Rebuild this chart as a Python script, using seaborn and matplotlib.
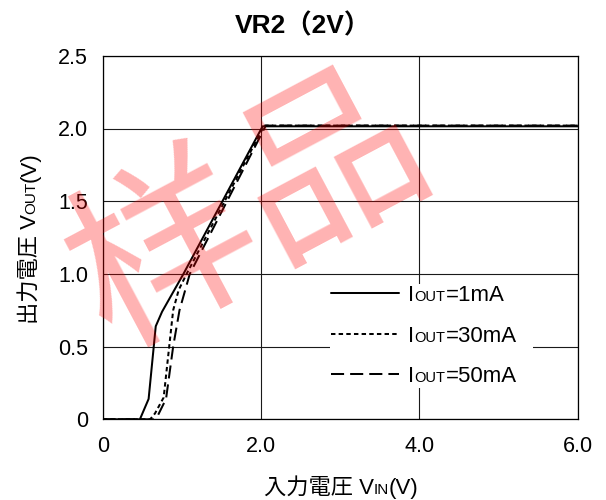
import numpy as np
import pandas as pd
import matplotlib
matplotlib.use("Agg")
import matplotlib.pyplot as plt
from matplotlib.transforms import IdentityTransform
import seaborn as sns

# ---------------- data ----------------
series_names = ["1mA", "30mA", "50mA"]
vin_1ma = [0, 0.47, 0.58, 0.67, 0.75, 1.02, 2.02, 6.0]
vout_1ma = [0, 0, 0.14, 0.64, 0.74, 1.00, 2.015, 2.015]
vin_30ma = [0, 0.60, 0.66, 0.77, 0.84, 0.89, 0.96, 1.06, 2.04, 6.0]
vout_30ma = [0, 0, 0.04, 0.15, 0.50, 0.75, 0.89, 1.00, 2.02, 2.02]
vin_50ma = [0, 0.64, 0.70, 0.80, 0.89, 0.97, 1.10, 2.06, 6.0]
vout_50ma = [0, 0, 0.03, 0.14, 0.50, 0.75, 1.00, 2.02, 2.02]

x_ticks = [0, 2, 4, 6]
x_tick_labels = ["0", "2.0", "4.0", "6.0"]
y_ticks = [0, 0.5, 1.0, 1.5, 2.0, 2.5]
y_tick_labels = ["0", "0.5", "1.0", "1.5", "2.0", "2.5"]
title_text = "VR2（2V）"
xlabel_parts = ["入力電圧 V", "IN", "(V)"]
ylabel_parts = ["出力電圧 V", "OUT", "(V)"]
legend_parts = [("I", "OUT", "=1mA"), ("I", "OUT", "=30mA"), ("I", "OUT", "=50mA")]
watermark_text = "样品"

# ---------------- style ----------------
sns.set_theme(style="white")
LAT = "Liberation Sans"
CJK = "Noto Sans CJK JP"
plt.rcParams["font.family"] = [LAT, CJK]
plt.rcParams["text.color"] = "black"
plt.rcParams["axes.labelcolor"] = "black"
plt.rcParams["xtick.color"] = "black"
plt.rcParams["ytick.color"] = "black"

W, H = 606, 500
fig = plt.figure(figsize=(W / 100, H / 100), dpi=100)
fig.patch.set_facecolor("white")
ax = fig.add_axes([102.7 / W, (H - 419.3) / H, 475.0 / W, 363.5 / H])
ax.set_facecolor("white")

df = pd.concat([
    pd.DataFrame({"vin": vin_1ma, "vout": vout_1ma, "series": series_names[0]}),
    pd.DataFrame({"vin": vin_30ma, "vout": vout_30ma, "series": series_names[1]}),
    pd.DataFrame({"vin": vin_50ma, "vout": vout_50ma, "series": series_names[2]}),
], ignore_index=True)

sns.lineplot(data=df, x="vin", y="vout", hue="series", style="series",
             hue_order=series_names, style_order=series_names,
             palette=["black"] * 3,
             dashes={series_names[0]: "", series_names[1]: (2.2, 1.6),
                     series_names[2]: (6.5, 3.0)},
             sort=False, estimator=None, linewidth=1.45, ax=ax)

ax.set_xlim(0, 6)
ax.set_ylim(0, 2.5)
ax.set_xticks(x_ticks)
ax.set_xticklabels(x_tick_labels)
ax.set_yticks(y_ticks)
ax.set_yticklabels(y_tick_labels)
ax.tick_params(axis="both", length=0, labelsize=15.5)
ax.tick_params(axis="x", pad=12.3)
ax.tick_params(axis="y", pad=10.6)
ax.set_xlabel("")
ax.set_ylabel("")
ax.set_axisbelow(True)
ax.grid(True, color="#1a1a1a", linewidth=0.8)
for sp in ax.spines.values():
    sp.set_color("black")
    sp.set_linewidth(0.9)
    sp.set_visible(True)

# legend
old = ax.get_legend()
handles = old.legend_handles
old.remove()
for h in handles:
    h.set_linewidth(1.45)
    h.set_color("black")
full_labels = ["".join(p) for p in legend_parts]
leg = ax.legend(handles, full_labels, loc="center left",
                bbox_to_anchor=(0.4785, 0.229), borderaxespad=0,
                frameon=True, facecolor="white", edgecolor="none",
                framealpha=1, fancybox=False, fontsize=16,
                handlelength=3.06, handletextpad=0.44,
                labelspacing=0.88, borderpad=0.03)

# title
fig.text(0.5, (H - 33) / H, title_text, ha="center", va="baseline",
         fontsize=19, fontweight="bold")

fig.canvas.draw()
renderer = fig.canvas.get_renderer()


def advance(s, size):
    t1 = fig.text(0, 0, "H" + s + "H", fontsize=size)
    t2 = fig.text(0, 0, "HH", fontsize=size)
    w = t1.get_window_extent(renderer).width - t2.get_window_extent(renderer).width
    t1.remove()
    t2.remove()
    return w


def rich(x, y, pieces, rotation=0, center=False):
    ang = np.deg2rad(rotation)
    ux, uy = np.cos(ang), np.sin(ang)
    adv = [advance(s, sz) for s, sz in pieces]
    pos = -sum(adv) / 2 if center else 0.0
    for (s, sz), a in zip(pieces, adv):
        fig.text(x + pos * ux, y + pos * uy, s, fontsize=sz,
                 transform=IdentityTransform(), rotation=rotation,
                 rotation_mode="anchor", ha="left", va="baseline")
        pos += a


# legend labels with small "OUT"
for t, (a, b, c) in zip(leg.get_texts(), legend_parts):
    x0, y0 = t.get_transform().transform(t.get_position())
    t.set_alpha(0)
    rich(x0, y0, [(a, 16), (b, 10.5), (c, 16)])

# axis labels
rich(341, 6, [(xlabel_parts[0], 16), (xlabel_parts[1], 11), (xlabel_parts[2], 16)],
     center=True)
rich(35.5, 262, [(ylabel_parts[0], 16), (ylabel_parts[1], 11), (ylabel_parts[2], 16)],
     rotation=90, center=True)

# watermark (semi-transparent), kept inside the canvas
fig.text(250 / W, 1 - 214 / H, watermark_text, fontsize=134, color="red",
         alpha=0.3, rotation=28, rotation_mode="anchor", ha="center",
         va="center", family="Noto Sans CJK SC", zorder=10)

fig.savefig("out.png", dpi=100, facecolor="white")
